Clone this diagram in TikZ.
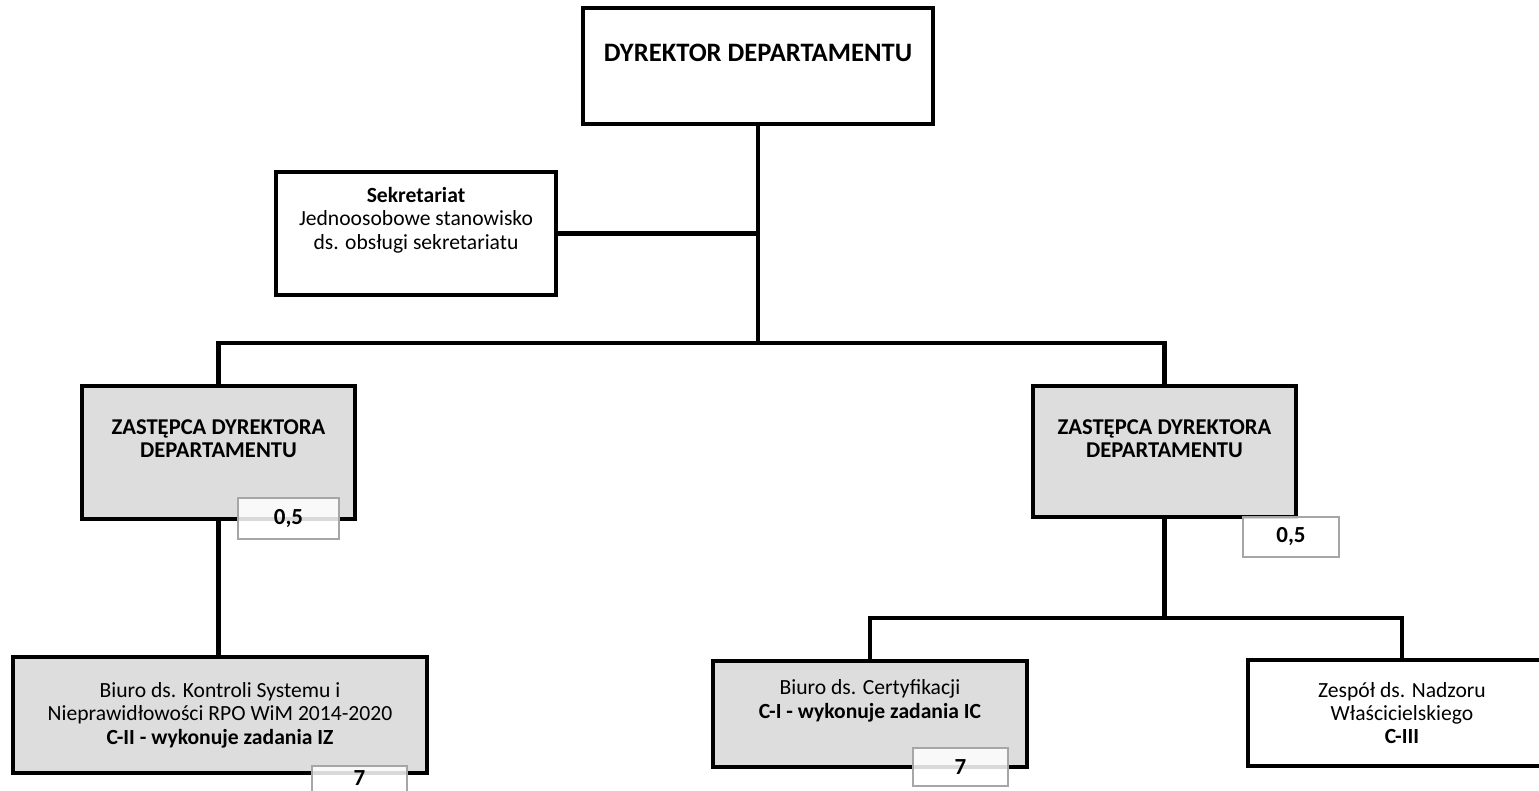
\documentclass[tikz,border=0pt]{standalone}
\usepackage{fontspec}
\setmainfont{Carlito}
\definecolor{boxgray}{RGB}{221,221,221}
\definecolor{countgray}{RGB}{166,166,166}
\tikzset{
	unit/.style={draw=black, line width=2.2pt, inner sep=0pt},
	grayunit/.style={unit, fill=boxgray},
	lbl/.style={align=center, text=black, font=\fontsize{10.8}{11.7}\selectfont},
	head/.style={lbl, font=\bfseries\fontsize{11.3}{11.5}\selectfont},
	count/.style={draw=countgray, line width=0.8pt, fill=white, fill opacity=0.85,
		text opacity=1, inner sep=0pt, font=\bfseries\fontsize{11.5}{12}\selectfont},
	link/.style={line width=2.2pt}
}
\begin{document}
\begin{tikzpicture}[x=0.5pt, y=-0.5pt]
	
	\useasboundingbox (0,0) rectangle (1539,791);
	
	% boxes
	\node[unit, minimum width=175pt, minimum height=58pt,
		label={[lbl, yshift=6.5pt, font=\bfseries\fontsize{13.3}{15}\selectfont]center:DYREKTOR DEPARTAMENTU}]
		(dir) at (758,66) {};
	\node[unit, minimum width=140pt, minimum height=61.5pt,
		label={[lbl, yshift=6.75pt]center:{\textbf{Sekretariat}\\Jednoosobowe stanowisko\\ds. obsługi sekretariatu}}]
		(sek) at (416,233.5) {};
	\node[grayunit, minimum width=136.5pt, minimum height=66.5pt,
		label={[head, yshift=6.75pt]center:{ZASTĘPCA DYREKTORA\\DEPARTAMENTU}}]
		(zl) at (218.5,452.5) {};
	\node[grayunit, minimum width=131.5pt, minimum height=65.5pt,
		label={[head, yshift=6.25pt]center:{ZASTĘPCA DYREKTORA\\DEPARTAMENTU}}]
		(zr) at (1164.5,451.5) {};
	\node[grayunit, minimum width=207pt, minimum height=58pt,
		label={[lbl]center:{Biuro ds. Kontroli Systemu i\\Nieprawidłowości RPO WiM 2014-2020\\\textbf{C-II - wykonuje zadania IZ}}}]
		(bl) at (220,715) {};
	\node[grayunit, minimum width=157pt, minimum height=53pt,
		label={[lbl, yshift=6.5pt]center:{Biuro ds. Certyfikacji\\\textbf{C-I - wykonuje zadania IC}}}]
		(bm) at (870,714) {};
	\node[unit, fill=white, minimum width=154pt, minimum height=53pt,
		label={[lbl]center:{Zespół ds. Nadzoru\\Właścicielskiego\\\textbf{C-III}}}]
		(br) at (1402,713) {};
	
	% connectors
	\coordinate (hub) at (758,343);
	\coordinate (hubb) at (1164.5,618);
	\draw[link] (dir.south) -- (hub);
	\draw[link] (sek.east) -- (sek.east -| dir.south);
	\draw[link] (zl.north) |- (hub) -| (zr.north);
	\draw[link] (zl.south) -- (zl.south |- bl.north);
	\draw[link] (zr.south) -- (hubb);
	\draw[link] (bm.north) |- (hubb) -| (br.north);
	
	% staff counts
	\node[count, minimum width=50.5pt, minimum height=20.5pt] (nzl) at (288.5,518.5) {0,5};
	\node[count, minimum width=48pt, minimum height=20pt] (nzr) at (1291,537) {0,5};
	\node[count, minimum width=47.5pt, minimum height=20pt,
		text height=8pt, text depth=8.8pt] (nbl) at (359.5,786) {7};
	\node[count, minimum width=47.5pt, minimum height=19pt] (nbm) at (960.5,767) {7};
	
\end{tikzpicture}
\end{document}
